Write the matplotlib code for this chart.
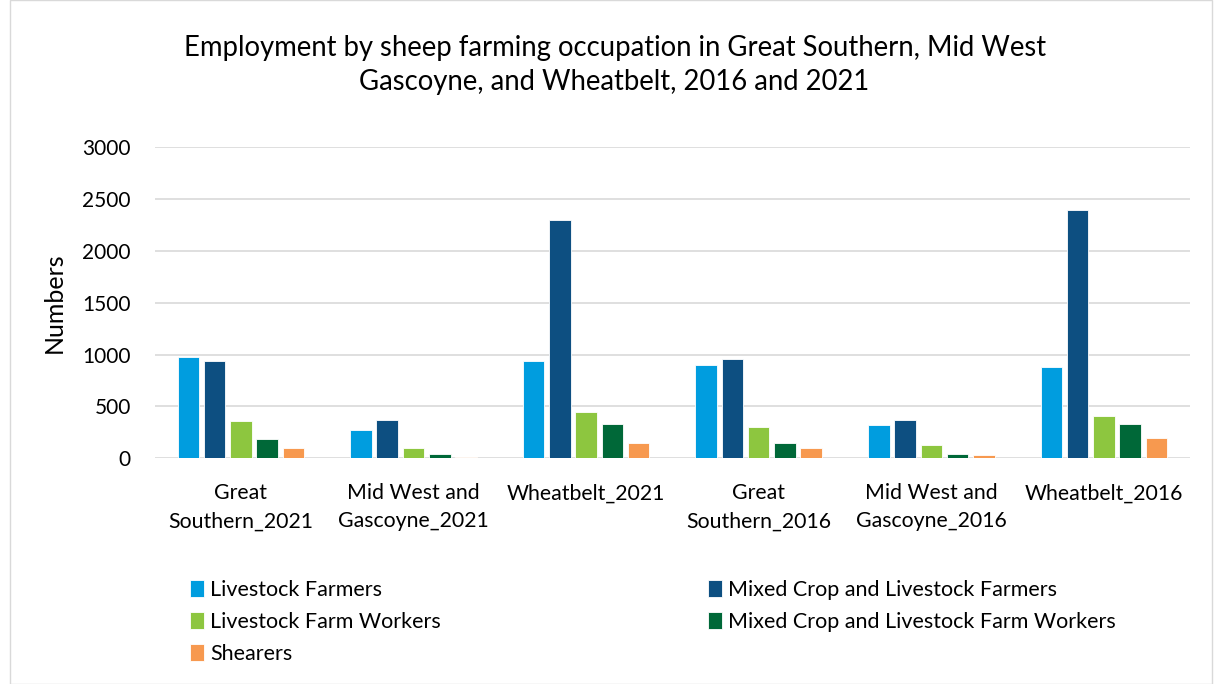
import numpy as np
import matplotlib
matplotlib.use("Agg")
import matplotlib.pyplot as plt
from matplotlib.patches import Rectangle

plt.rcParams["font.family"] = ["Lato", "DejaVu Sans"]

regions = ["Great\nSouthern_2021", "Mid West and\nGascoyne_2021", "Wheatbelt_2021",
           "Great\nSouthern_2016", "Mid West and\nGascoyne_2016", "Wheatbelt_2016"]
series_names = ["Livestock Farmers", "Mixed Crop and Livestock Farmers",
                "Livestock Farm Workers", "Mixed Crop and Livestock Farm Workers", "Shearers"]
livestock_farmers = [975, 273, 935, 900, 318, 880]
mixed_farmers = [935, 372, 2295, 958, 369, 2390]
livestock_workers = [360, 99, 449, 302, 125, 408]
mixed_workers = [189, 41, 334, 145, 39, 331]
shearers = [99, 13, 145, 102, 29, 193]
colors = ["#009DDF", "#0D4F81", "#8DC63F", "#006838", "#F7994F"]

values = [livestock_farmers, mixed_farmers, livestock_workers, mixed_workers, shearers]

fig = plt.figure(figsize=(12.17, 6.84), dpi=100)
fig.patches.append(Rectangle((0.008, 0.0), 0.988, 1.0, transform=fig.transFigure,
                             fill=False, edgecolor="#D9D9D9", linewidth=1))
ax = fig.add_axes([0.127, 0.330, 0.851, 0.455])

x = np.arange(len(regions))
width = 0.125
pitch = 0.152
for i, (name, vals) in enumerate(zip(series_names, values)):
    ax.bar(x + (i - 2) * pitch, vals, width, color=colors[i], label=name,
           edgecolor="white", linewidth=0.6, zorder=3)

ax.set_xlim(-0.5, len(regions) - 0.5)
ax.set_ylim(0, 3000)
ax.set_yticks(np.arange(0, 3001, 500))
ax.tick_params(axis="y", labelsize=15, length=0, pad=17, colors="#000000")
ax.tick_params(axis="x", labelsize=15.3, length=0, pad=18)
ax.set_xticks(x)
ax.set_xticklabels(regions, va="top", linespacing=1.5)
ax.grid(axis="y", color="#D9D9D9", linewidth=1.2, zorder=0)
for s in ax.spines.values():
    s.set_visible(False)
ax.set_ylabel("Numbers", fontsize=18, labelpad=12)

fig.text(0.505, 0.905, "Employment by sheep farming occupation in Great Southern, Mid West\nGascoyne, and Wheatbelt, 2016 and 2021",
         ha="center", va="center", fontsize=19.8, linespacing=1.4)

handles, labels = ax.get_legend_handles_labels()
order = [0, 2, 4, 1, 3]
fig.legend([handles[k] for k in order], [labels[k] for k in order], ncol=2,
           loc="upper left", bbox_to_anchor=(0.140, 0.180), frameon=False,
           fontsize=15.5, handlelength=0.65, handleheight=0.85, handletextpad=0.3,
           columnspacing=12.4, labelspacing=0.55)

fig.savefig("out.png", dpi=100)
